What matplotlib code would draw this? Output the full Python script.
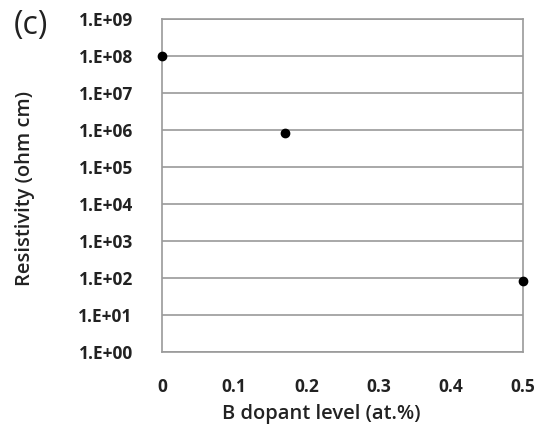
import matplotlib
matplotlib.use("Agg")
import matplotlib.pyplot as plt
from matplotlib.ticker import FixedLocator, NullLocator

# data
dopant = [0.0, 0.17, 0.5]
resistivity = [1.0e8, 8.5e5, 8.5e1]

x_ticks = [0, 0.1, 0.2, 0.3, 0.4, 0.5]
x_labels = ["0", "0.1", "0.2", "0.3", "0.4", "0.5"]
y_ticks = [10.0 ** k for k in range(0, 10)]
y_labels = ["1.E+%02d" % k for k in range(0, 10)]

plt.rcParams['font.family'] = ['Open Sans', 'DejaVu Sans']

fig = plt.figure(figsize=(5.36, 4.32), dpi=100)
ax = fig.add_axes([0.302, 0.185, 0.674, 0.771])

ax.plot(dopant, resistivity, 'o', color='black', markersize=6, clip_on=False, zorder=5)

ax.set_yscale('log')
ax.set_ylim(1, 1e9)
ax.set_xlim(0, 0.5)
ax.yaxis.set_major_locator(FixedLocator(y_ticks))
ax.yaxis.set_minor_locator(NullLocator())
ax.set_yticklabels(y_labels)
ax.set_xticks(x_ticks)
ax.set_xticklabels(x_labels)

ax.grid(axis='y', color='#9a9a9a', linewidth=1.2)
ax.set_axisbelow(True)
for s in ax.spines.values():
    s.set_color('#9a9a9a')
    s.set_linewidth(1.2)

ax.tick_params(axis='y', length=0, pad=21, labelsize=12.5, labelcolor='#222222')
ax.tick_params(axis='x', length=0, pad=19, labelsize=12.5, labelcolor='#222222')
for lab in ax.get_xticklabels() + ax.get_yticklabels():
    lab.set_fontweight('bold')

ax.set_xlabel('B dopant level (at.%)', fontsize=14.5, fontweight='semibold', color='#222222')
ax.xaxis.set_label_coords(0.44, -0.155)
ax.set_ylabel('Resistivity (ohm cm)', fontsize=14.5, fontweight='semibold', color='#222222')
ax.yaxis.set_label_coords(-0.35, 0.49)

fig.text(0.025, 0.98, '(c)', fontsize=23, va='top', ha='left', color='#222222')

fig.savefig('out.png', dpi=100)
